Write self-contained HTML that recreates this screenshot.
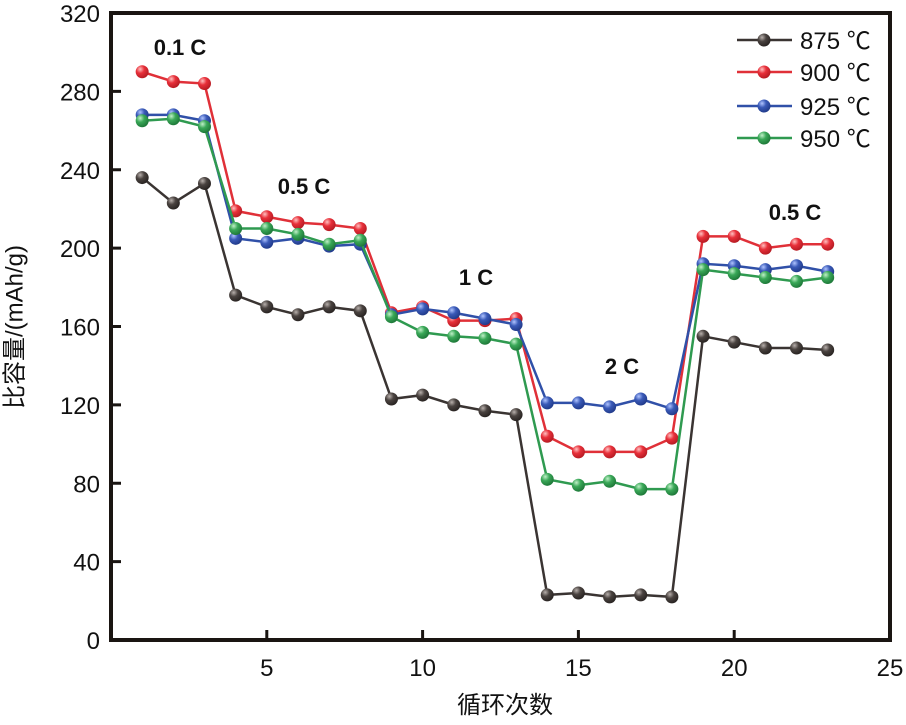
<!DOCTYPE html>
<html><head><meta charset="utf-8"><style>
html,body{margin:0;padding:0;background:#fff;}
svg{display:block;font-family:"Liberation Sans","Noto Sans CJK SC",sans-serif;}
</style></head><body>
<svg id="c" width="906" height="725" viewBox="0 0 906 725">
<defs>
<radialGradient id="g875" cx="35%" cy="30%" r="70%"><stop offset="0" stop-color="#b8b0ac"/><stop offset="0.45" stop-color="#4a4340"/><stop offset="1" stop-color="#2a2523"/></radialGradient>
<radialGradient id="g900" cx="35%" cy="30%" r="70%"><stop offset="0" stop-color="#ffc0c0"/><stop offset="0.45" stop-color="#e8303a"/><stop offset="1" stop-color="#b81c24"/></radialGradient>
<radialGradient id="g925" cx="35%" cy="30%" r="70%"><stop offset="0" stop-color="#b0c4ff"/><stop offset="0.45" stop-color="#3a5ab8"/><stop offset="1" stop-color="#223c8c"/></radialGradient>
<radialGradient id="g950" cx="35%" cy="30%" r="70%"><stop offset="0" stop-color="#c0f0c8"/><stop offset="0.45" stop-color="#3aa858"/><stop offset="1" stop-color="#1f7a3a"/></radialGradient>
</defs>
<g id="series"></g>
<rect x="111" y="13" width="779" height="627" fill="none" stroke="#1a1512" stroke-width="4"/>
<g id="axes"></g>
<text x="15" y="327" transform="rotate(-90 15 327)" text-anchor="middle" dominant-baseline="central" font-size="24" fill="#111">比容量/(mAh/g)</text>
<text x="505" y="713" text-anchor="middle" font-size="24" fill="#111">循环次数</text>
<g font-weight="bold" font-size="22" fill="#111" text-anchor="middle">
<text x="180" y="55">0.1 C</text>
<text x="304" y="194">0.5 C</text>
<text x="476" y="285">1 C</text>
<text x="622" y="374">2 C</text>
<text x="795" y="220">0.5 C</text>
</g>
<g id="legend"></g>
</svg>
<script>
const cycles=[1,2,3,4,5,6,7,8,9,10,11,12,13,14,15,16,17,18,19,20,21,22,23];
const s875=[236,223,233,176,170,166,170,168,123,125,120,117,115,23,24,22,23,22,155,152,149,149,148];
const s900=[290,285,284,219,216,213,212,210,167,170,163,163,164,104,96,96,96,103,206,206,200,202,202];
const s925=[268,268,265,205,203,205,201,202,166,169,167,164,161,121,121,119,123,118,192,191,189,191,188];
const s950=[265,266,262,210,210,207,202,204,165,157,155,154,151,82,79,81,77,77,189,187,185,183,185];
const seriesNames=["875 ℃","900 ℃","925 ℃","950 ℃"];
const xTicks=[5,10,15,20,25];
const yTicks=[0,40,80,120,160,200,240,280,320];
const NS="http://www.w3.org/2000/svg";
const X0=111,X1=890,Y0=640,Y1=13;
const sx=v=>X0+(v/25)*(X1-X0);
const sy=v=>Y0-(v/320)*(Y0-Y1);
function mk(tag,attrs,parent){const e=document.createElementNS(NS,tag);for(const k in attrs)e.setAttribute(k,attrs[k]);parent.appendChild(e);return e;}
const axes=document.getElementById('axes');
xTicks.forEach(t=>{
  const l=mk('line',{x1:sx(t),x2:sx(t),y1:Y0,y2:Y0-10,stroke:'#1a1512','stroke-width':3},axes);
  
  
  const tx=mk('text',{x:sx(t),y:Y0+36,'text-anchor':'middle','font-size':24,fill:'#111'},axes);
  tx.textContent=t;
  
  
});
yTicks.forEach(t=>{
  const l=mk('line',{x1:X0,x2:X0+10,y1:sy(t),y2:sy(t),stroke:'#1a1512','stroke-width':3},axes);
  
  
  const tx=mk('text',{x:100,y:sy(t)+9,'text-anchor':'end','font-size':24,fill:'#111'},axes);
  tx.textContent=t;
  
  
});
const data=[s875,s900,s925,s950];
const cols=['#3a3432','#e03038','#3050a8','#2f9a50'];
const grads=['g875','g900','g925','g950'];
const sg=document.getElementById('series');
data.forEach((d,i)=>{
  const g=mk('g',{},sg);
  
  
  const p=mk('polyline',{points:d.map((v,j)=>sx(cycles[j])+','+sy(v)).join(' '),fill:'none',stroke:cols[i],'stroke-width':2.5},g);
  
  
  d.forEach((v,j)=>{
    const c=mk('circle',{cx:sx(cycles[j]),cy:sy(v),r:6.5,fill:'url(#'+grads[i]+')'},g);
    
    
  });
});
const lg=document.getElementById('legend');
const ly=[40,72,106,138];
seriesNames.forEach((n,i)=>{
  const g=mk('g',{},lg);
  
  
  mk('line',{x1:737,x2:792,y1:ly[i],y2:ly[i],stroke:cols[i],'stroke-width':2.5},g);
  mk('circle',{cx:764,cy:ly[i],r:6.5,fill:'url(#'+grads[i]+')'},g);
  const t=mk('text',{x:800,y:ly[i]+9,'font-size':24,fill:'#111'},g);
  t.textContent=n;
});
</script>
</body></html>
